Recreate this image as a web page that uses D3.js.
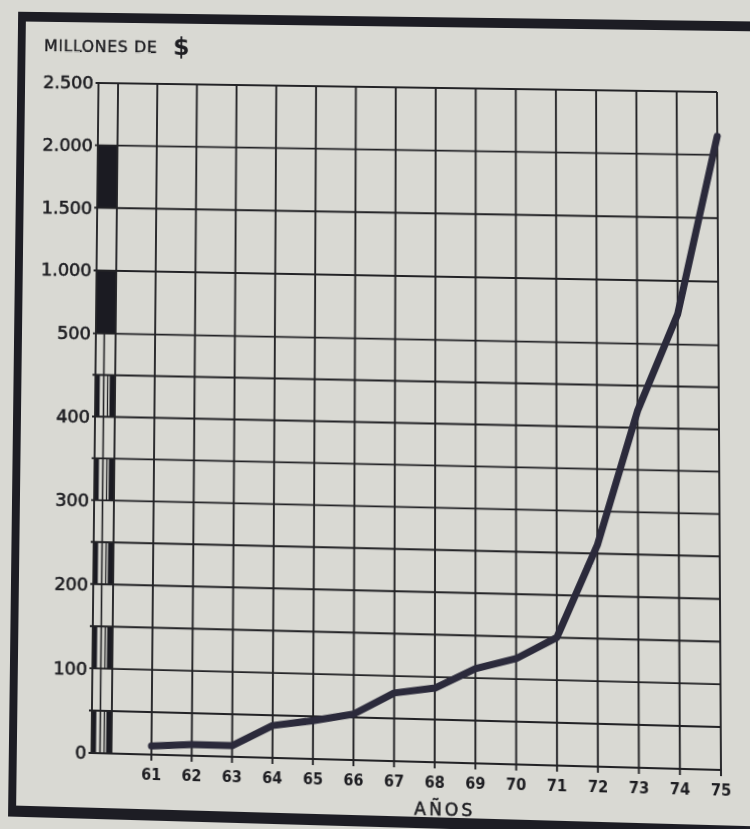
<!DOCTYPE html>
<html>
<head>
<meta charset="utf-8">
<script src="https://cdn.jsdelivr.net/npm/d3@7"></script>
<style>
  html, body { margin: 0; padding: 0; width: 750px; height: 829px; overflow: hidden; background: #d9d9d3; }
  #warp { position: absolute; left: 0; top: 0; width: 750px; height: 829px; transform-origin: 0 0; }
  svg { display: block; overflow: visible; }
</style>
</head>
<body>
<div id="warp"></div>
<script>
// ---------------- data ----------------
const years      = [61, 62, 63, 64, 65, 66, 67, 68, 69, 70, 71, 72, 73, 74, 75];
const yearLabels = ["61","62","63","64","65","66","67","68","69","70","71","72","73","74","75"];
const values     = [10, 13, 13, 38, 45, 54, 80, 87, 111, 124, 150, 260, 420, 740, 2150]; // millones de $
const yTicks      = [0, 100, 200, 300, 400, 500, 1000, 1500, 2000, 2500];
const yTickLabels = ["0", "100", "200", "300", "400", "500", "1.000", "1.500", "2.000", "2.500"];
const yMinorTicks = [50, 150, 250, 350, 450];
const stripedBands = [[0, 50], [100, 150], [200, 250], [300, 350], [400, 450]];
const solidBands   = [[500, 1000], [1500, 2000]];
const yTitle = "MILLONES DE";
const currencySign = "$";
const xTitle = "AÑOS";

// ---------------- layout ----------------
const W = 750, H = 829;
const plot = { left: 95, right: 719, top: 87, bottom: 761 };
const colW = 20;           // width of the scale-break column
const ink = "#232326", lineInk = "#2b2a3b", paper = "#d9d9d3", textInk = "#1e1e22";

const x = d3.scaleLinear().domain([61, 75]).range([155, plot.right]);
const y = d3.scaleLinear().domain([0, 500, 2500]).range([plot.bottom, 341.6, plot.top]);

const svg = d3.select("#warp").append("svg").attr("width", W).attr("height", H);

// paper
svg.append("rect").attr("x", -200).attr("y", -200).attr("width", W + 400).attr("height", H + 400).attr("fill", paper);

// frame (thick border of the original figure)
const frame = svg.append("g").attr("fill", "#1d1d24");
frame.append("rect").attr("x", 12).attr("y", 15).attr("width", 8).attr("height", 811);
frame.append("rect").attr("x", 12).attr("y", 15).attr("width", W + 150).attr("height", 10);
frame.append("rect").attr("x", 12).attr("y", 815).attr("width", W + 150).attr("height", 11);

// scale-break column fills
const col = svg.append("g");
col.selectAll("rect.solid").data(solidBands).join("rect")
  .attr("class", "solid")
  .attr("x", plot.left).attr("width", colW)
  .attr("y", d => y(d[1])).attr("height", d => y(d[0]) - y(d[1]))
  .attr("fill", "#1b1b22");
col.selectAll("rect.sl").data(stripedBands).join("rect")
  .attr("class", "sl")
  .attr("x", plot.left).attr("width", 4.5)
  .attr("y", d => y(d[1])).attr("height", d => y(d[0]) - y(d[1]))
  .attr("fill", "#1b1b22");
col.selectAll("rect.sr").data(stripedBands).join("rect")
  .attr("class", "sr")
  .attr("x", plot.left + 14.5).attr("width", colW - 14.5)
  .attr("y", d => y(d[1])).attr("height", d => y(d[0]) - y(d[1]))
  .attr("fill", "#1b1b22");
col.selectAll("line.st").data(stripedBands).join("line")
  .attr("class", "st")
  .attr("x1", plot.left + 12.5).attr("x2", plot.left + 12.5)
  .attr("y1", d => y(d[1])).attr("y2", d => y(d[0]))
  .attr("stroke", ink).attr("stroke-width", 1.3);
col.append("line")
  .attr("x1", plot.left + 8.5).attr("x2", plot.left + 8.5)
  .attr("y1", y(500)).attr("y2", y(0))
  .attr("stroke", ink).attr("stroke-width", 1.6);

// grid
const grid = svg.append("g").attr("stroke", ink).attr("stroke-width", 1.9).attr("fill", "none");
grid.selectAll("line.h").data(yTicks.concat(yMinorTicks)).join("line")
  .attr("class", "h")
  .attr("x1", plot.left - 3).attr("x2", plot.right)
  .attr("y1", d => y(d)).attr("y2", d => y(d));
grid.selectAll("line.v").data(years).join("line")
  .attr("class", "v")
  .attr("x1", d => x(d)).attr("x2", d => x(d))
  .attr("y1", y(2500)).attr("y2", y(0) + 6);
grid.append("line").attr("x1", plot.left).attr("x2", plot.left).attr("y1", y(2500)).attr("y2", y(0));
grid.append("line").attr("x1", plot.left + colW).attr("x2", plot.left + colW).attr("y1", y(2500)).attr("y2", y(0));

// data line
const series = years.map((yr, i) => ({ year: yr, value: values[i] }));
svg.append("path").datum(series)
  .attr("d", d3.line().x(d => x(d.year)).y(d => y(d.value)))
  .attr("fill", "none").attr("stroke", lineInk).attr("stroke-width", 7)
  .attr("stroke-linecap", "round").attr("stroke-linejoin", "round");

// y tick labels
svg.append("g").selectAll("text").data(yTicks).join("text")
  .attr("x", plot.left - 5).attr("y", d => y(d)).attr("dy", "0.36em")
  .attr("text-anchor", "end")
  .attr("font-family", "DejaVu Sans, sans-serif").attr("font-size", 18)
  .attr("fill", textInk).attr("stroke", textInk).attr("stroke-width", 0.6)
  .text((d, i) => yTickLabels[i]);

// x tick labels
svg.append("g").selectAll("text").data(years).join("text")
  .attr("x", d => x(d)).attr("y", y(0) + 19).attr("dy", "0.36em")
  .attr("text-anchor", "middle")
  .attr("font-family", "DejaVu Sans Condensed, DejaVu Sans, sans-serif")
  .attr("font-stretch", "condensed").attr("font-weight", "bold").attr("font-size", 16)
  .attr("fill", textInk)
  .text((d, i) => yearLabels[i]);

// titles
const t1 = svg.append("text").attr("x", 39).attr("y", 55)
  .attr("font-family", "DejaVu Sans, sans-serif").attr("font-size", 16)
  .attr("letter-spacing", 0.7).attr("fill", textInk).attr("stroke", textInk).attr("stroke-width", 0.4)
  .text(yTitle);
let tw = 118;
try { tw = t1.node().getComputedTextLength(); } catch (e) {}
svg.append("text").attr("x", 39 + tw + 16).attr("y", 57)
  .attr("font-family", "DejaVu Sans, sans-serif").attr("font-size", 24).attr("font-weight", "bold")
  .attr("fill", textInk).text(currencySign);
svg.append("text").attr("x", 447).attr("y", 813)
  .attr("text-anchor", "middle")
  .attr("font-family", "DejaVu Sans, sans-serif").attr("font-size", 17)
  .attr("letter-spacing", 3).attr("fill", textInk).attr("stroke", textInk).attr("stroke-width", 0.5)
  .text(xTitle);

// ---------------- photo perspective (plot rectangle -> photographed quad) ----------------
const photoQuad = [[98.5, 83], [717, 92], [721, 770], [91.5, 753]]; // TL, TR, BR, BL
(function applyWarp() {
  const [[x0, y0], [x1, y1], [x2, y2], [x3, y3]] = photoQuad;
  const sx = x0 - x1 + x2 - x3, sy = y0 - y1 + y2 - y3;
  const dx1 = x1 - x2, dx2 = x3 - x2, dy1 = y1 - y2, dy2 = y3 - y2;
  const den = dx1 * dy2 - dx2 * dy1;
  const g = (sx * dy2 - dx2 * sy) / den;
  const h = (dx1 * sy - sx * dy1) / den;
  const a = x1 - x0 + g * x1, b = x3 - x0 + h * x3, c = x0;
  const d = y1 - y0 + g * y1, e = y3 - y0 + h * y3, f = y0;
  const rx = plot.left, ry = plot.top, rw = plot.right - plot.left, rh = plot.bottom - plot.top;
  const M = [
    [a / rw, b / rh, c - a * rx / rw - b * ry / rh],
    [d / rw, e / rh, f - d * rx / rw - e * ry / rh],
    [g / rw, h / rh, 1 - g * rx / rw - h * ry / rh]
  ];
  if (!M.flat().every(Number.isFinite)) return;
  const m3d = [M[0][0], M[1][0], 0, M[2][0],
               M[0][1], M[1][1], 0, M[2][1],
               0, 0, 1, 0,
               M[0][2], M[1][2], 0, M[2][2]];
  document.getElementById("warp").style.transform = "matrix3d(" + m3d.join(",") + ")";
})();
</script>
</body>
</html>
